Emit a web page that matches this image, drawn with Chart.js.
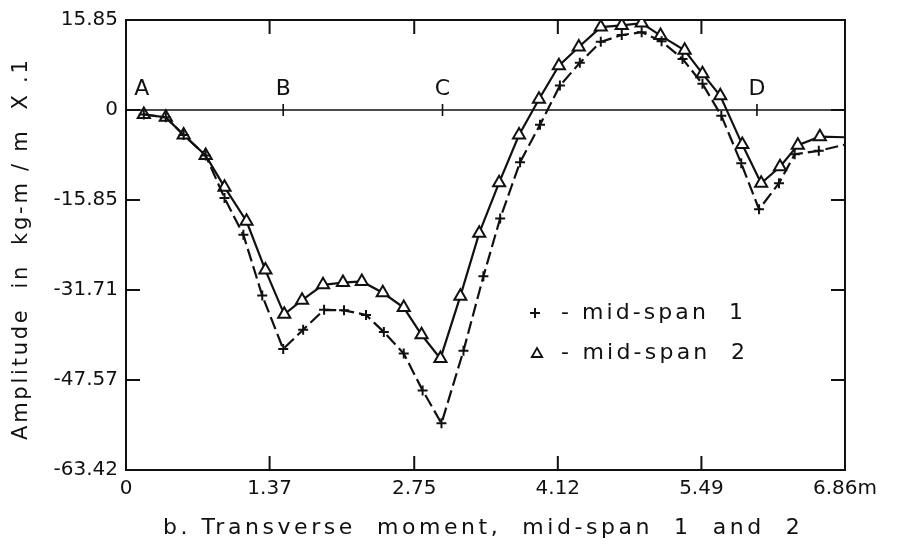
<!DOCTYPE html>
<html>
<head>
<meta charset="utf-8">
<script src="https://cdn.jsdelivr.net/npm/chart.js@4.4.1/dist/chart.umd.min.js"></script>
<style>
  html, body { margin: 0; padding: 0; background: #fff; }
  #wrap { width: 900px; height: 551px; }
</style>
</head>
<body>
<div id="wrap"><canvas id="canvas" width="900" height="551"></canvas></div>
<script>
// positions along the span (m) and amplitudes (kg-m/m x .1)
const span1X = [0.17, 0.38, 0.55, 0.76, 0.94, 1.12, 1.30, 1.50, 1.69, 1.89, 2.08, 2.29, 2.46, 2.65, 2.83, 3.01,
                3.22, 3.41, 3.57, 3.76, 3.95, 4.14, 4.33, 4.53, 4.73, 4.92, 5.11, 5.31, 5.50, 5.68, 5.87, 6.04,
                6.23, 6.38, 6.61, 6.86];
const span1Y = [-0.8, -1.3, -4.4, -8.0, -15.5, -22.0, -32.7, -42.1, -38.7, -35.2, -35.3, -36.1, -39.1, -42.9, -49.4, -55.2,
                -42.4, -29.3, -19.1, -9.2, -2.6, 4.3, 8.3, 12.0, 13.2, 13.7, 12.1, 9.0, 4.6, -1.0, -9.4, -17.5,
                -12.9, -7.8, -7.2, -6.1];
const span2X = [0.17, 0.38, 0.55, 0.76, 0.94, 1.15, 1.33, 1.51, 1.68, 1.88, 2.07, 2.25, 2.45, 2.65, 2.82, 3.00,
                3.19, 3.37, 3.56, 3.75, 3.94, 4.13, 4.32, 4.53, 4.73, 4.92, 5.10, 5.33, 5.50, 5.67, 5.88, 6.06,
                6.24, 6.41, 6.62, 6.86];
const span2Y = [-0.8, -1.3, -4.4, -8.0, -13.6, -19.6, -28.2, -36.0, -33.5, -30.8, -30.4, -30.2, -32.2, -34.8, -39.6, -43.8,
                -32.8, -21.7, -12.8, -4.4, 1.9, 7.8, 11.1, 14.6, 14.9, 15.3, 13.1, 10.5, 6.4, 2.5, -6.1, -12.9,
                -10.0, -6.2, -4.7, -4.8];

const seriesNames = ['mid-span 1', 'mid-span 2'];
const xTicks = [0, 1.37, 2.75, 4.12, 5.49, 6.86];
const xTickLabels = ['0', '1.37', '2.75', '4.12', '5.49', '6.86m'];
const yTicks = [-63.42, -47.57, -31.71, -15.85, 0, 15.85];
const yTickLabels = ['-63.42', '-47.57', '-31.71', '-15.85', '0', '15.85'];
const stationNames = ['A', 'B', 'C', 'D'];
const stationX = [0.15, 1.50, 3.02, 6.02];
const yTitle = 'Amplitude  in  kg-m / m  X .1';
const caption = 'b. Transverse  moment,  mid-span  1  and  2';

const ink = '#111';
const family = '"DejaVu Sans", sans-serif';

// writes text stretched out to a given width (the scan uses wide lettering)
function spaced(ctx, text, x, y, width) {
    ctx.letterSpacing = '0px';
    const w0 = ctx.measureText(text).width;
    const gap = Math.max(0, (width - w0) / (text.length - 1));
    ctx.letterSpacing = gap.toFixed(2) + 'px';
    ctx.textAlign = 'left';
    ctx.fillText(text, x, y);
    ctx.letterSpacing = '0px';
}

const decor = {
    id: 'decor',
    beforeDatasetsDraw(chart) {
        const ctx = chart.ctx;
        const a = chart.chartArea;
        const xs = chart.scales.x, ys = chart.scales.y;
        ctx.save();
        ctx.strokeStyle = ink;
        ctx.lineWidth = 2;
        ctx.strokeRect(a.left, a.top, a.right - a.left, a.bottom - a.top);

        // tick marks pointing into the frame
        ctx.beginPath();
        xTicks.slice(1, -1).forEach(v => {
            const px = xs.getPixelForValue(v);
            ctx.moveTo(px, a.bottom); ctx.lineTo(px, a.bottom - 14);
            ctx.moveTo(px, a.top); ctx.lineTo(px, a.top + 14);
        });
        yTicks.slice(1, -1).forEach(v => {
            const py = ys.getPixelForValue(v);
            ctx.moveTo(a.left, py); ctx.lineTo(a.left + 14, py);
            ctx.moveTo(a.right, py); ctx.lineTo(a.right - 14, py);
        });
        ctx.stroke();

        // zero line with the support marks
        const y0 = ys.getPixelForValue(0);
        ctx.lineWidth = 1.6;
        ctx.beginPath();
        ctx.moveTo(a.left, y0); ctx.lineTo(a.right, y0);
        stationX.slice(1).forEach(v => {
            const px = xs.getPixelForValue(v);
            ctx.moveTo(px, y0 - 6); ctx.lineTo(px, y0 + 6);
        });
        ctx.stroke();
        ctx.restore();
    },
    afterDraw(chart) {
        const ctx = chart.ctx;
        const xs = chart.scales.x, ys = chart.scales.y;
        ctx.save();
        ctx.fillStyle = ink;
        ctx.textBaseline = 'middle';

        ctx.font = '22px ' + family;
        ctx.textAlign = 'center';
        const y0 = ys.getPixelForValue(0);
        stationNames.forEach((s, i) => {
            ctx.fillText(s, xs.getPixelForValue(stationX[i]), y0 - 21);
        });

        // legend
        ctx.strokeStyle = ink; ctx.lineWidth = 2;
        ctx.beginPath(); ctx.moveTo(530, 313); ctx.lineTo(540, 313); ctx.moveTo(535, 308); ctx.lineTo(535, 318); ctx.stroke();
        ctx.font = '22px ' + family;
        spaced(ctx, '- mid-span  1', 561, 313, 182);
        ctx.fillStyle = '#fff'; ctx.lineWidth = 1.8;
        Chart.helpers.drawPoint(ctx, { pointStyle: 'triangle', radius: 6, rotation: 0, borderWidth: 1.8 }, 537, 354);
        ctx.fillStyle = ink;
        spaced(ctx, '- mid-span  2', 561, 353, 184);

        // caption
        ctx.font = '22px ' + family;
        spaced(ctx, caption, 163, 528, 637);

        // y title
        ctx.translate(22, 250);
        ctx.rotate(-Math.PI / 2);
        ctx.font = '21px ' + family;
        spaced(ctx, yTitle, -190, 0, 380);
        ctx.restore();
    }
};

const ctx = document.getElementById('canvas').getContext('2d');

new Chart(ctx, {
    type: 'scatter',
    data: {
        datasets: [{
            label: seriesNames[0],
            data: span1X.map((x, i) => ({ x: x, y: span1Y[i] })),
            showLine: true,
            borderColor: ink,
            borderWidth: 2.2,
            borderDash: [13, 5],
            tension: 0,
            pointStyle: 'cross',
            pointRadius: c => c.dataIndex === span1X.length - 1 ? 0 : 5,
            pointBorderColor: ink,
            pointBorderWidth: 2
        }, {
            label: seriesNames[1],
            data: span2X.map((x, i) => ({ x: x, y: span2Y[i] })),
            showLine: true,
            borderColor: ink,
            borderWidth: 2.2,
            tension: 0,
            pointStyle: 'triangle',
            pointRadius: c => c.dataIndex === span2X.length - 1 ? 0 : 7,
            pointBackgroundColor: '#fff',
            pointBorderColor: ink,
            pointBorderWidth: 2
        }]
    },
    options: {
        responsive: false,
        animation: false,
        devicePixelRatio: 1,
        layout: { padding: { top: 19, right: 55, left: 0, bottom: 0 } },
        plugins: { legend: { display: false }, tooltip: { enabled: false } },
        scales: {
            x: {
                type: 'linear', min: 0, max: 6.86,
                grid: { display: false, drawTicks: false },
                border: { display: false },
                afterBuildTicks: s => { s.ticks = xTicks.map(v => ({ value: v })); },
                afterFit: s => { s.height = 81; },
                ticks: {
                    autoSkip: false, maxRotation: 0, padding: 7, color: ink,
                    font: { family: family, size: 20 },
                    callback: (v, i) => xTickLabels[i]
                }
            },
            y: {
                type: 'linear', min: -63.42, max: 15.85,
                grid: { display: false, drawTicks: false },
                border: { display: false },
                afterBuildTicks: s => { s.ticks = yTicks.map(v => ({ value: v })); },
                afterFit: s => { s.width = 126; },
                ticks: {
                    autoSkip: false, padding: 8, color: ink,
                    font: { family: family, size: 20 },
                    callback: (v, i) => yTickLabels[i]
                }
            }
        }
    },
    plugins: [decor]
});
</script>
</body>
</html>
